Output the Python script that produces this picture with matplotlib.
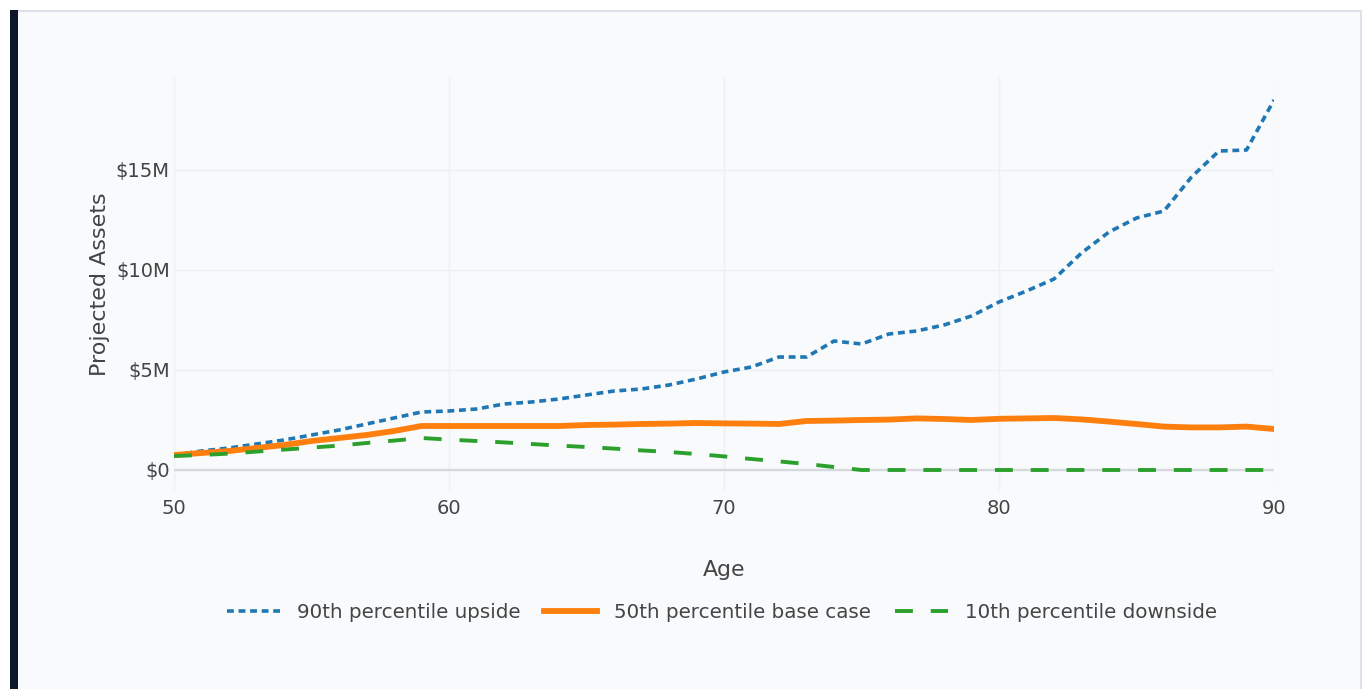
#!/usr/bin/env python3
import matplotlib

matplotlib.use("Agg")
import matplotlib.pyplot as plt  # noqa: E402
from matplotlib.patches import Rectangle  # noqa: E402

# values in $M
ages = list(range(50, 91))
p90_upside = [
    0.75, 0.95, 1.1, 1.3, 1.5, 1.75, 2.0, 2.3, 2.6, 2.9,
    2.95, 3.05, 3.3, 3.4, 3.55, 3.75, 3.95, 4.05, 4.25, 4.55,
    4.9, 5.15, 5.65, 5.65, 6.45, 6.3, 6.8, 6.95, 7.25, 7.7,
    8.4, 8.95, 9.55, 10.85, 11.9, 12.6, 12.95, 14.65, 15.95, 16.0,
    18.5,
]
p50_base = [
    0.75, 0.85, 0.95, 1.1, 1.25, 1.45, 1.6, 1.75, 1.95, 2.2,
    2.2, 2.2, 2.2, 2.2, 2.2, 2.25, 2.27, 2.3, 2.32, 2.35,
    2.33, 2.32, 2.3, 2.45, 2.47, 2.5, 2.52, 2.58, 2.55, 2.5,
    2.56, 2.58, 2.6, 2.53, 2.42, 2.3, 2.17, 2.13, 2.13, 2.17,
    2.05,
]
p10_downside = [
    0.7, 0.75, 0.82, 0.92, 1.02, 1.12, 1.22, 1.35, 1.47, 1.6,
    1.52, 1.45, 1.38, 1.3, 1.22, 1.15, 1.07, 0.98, 0.9, 0.8,
    0.68, 0.55, 0.43, 0.3, 0.15, 0.0, 0.0, 0.0, 0.0, 0.0,
    0.0, 0.0, 0.0, 0.0, 0.0, 0.0, 0.0, 0.0, 0.0, 0.0,
    0.0,
]
series_labels = ["90th percentile upside", "50th percentile base case", "10th percentile downside"]
y_ticks = [0, 5, 10, 15]
y_tick_labels = ["$0", "$5M", "$10M", "$15M"]
x_ticks = [50, 60, 70, 80, 90]

W, H = 1362, 689
BG = "#f8fafc"
TEXT = "#444444"

fig = plt.figure(figsize=(W / 100, H / 100), dpi=100, facecolor="white")


def px_rect(x0, y0, x1, y1, color):
    # rectangle given in pixel coords, y measured from the top
    fig.patches.append(Rectangle((x0 / W, 1 - y1 / H), (x1 - x0) / W, (y1 - y0) / H,
                                 transform=fig.transFigure, facecolor=color,
                                 edgecolor="none", zorder=-10))


# card behind the chart
px_rect(9.5, 10, 1362, 689, "#dbe2ea")
px_rect(17.5, 12, 1359.5, 689, BG)
px_rect(9.5, 10, 17.5, 689, "#0f172a")

ax = fig.add_axes([174 / W, 1 - 490 / H, 1100 / W, 412 / H])
ax.set_zorder(2)
ax.patch.set_alpha(0)

ax.plot(ages, p90_upside, color="#1f77b4", lw=2.6, dashes=(1.9, 1.3),
        dash_capstyle="butt", label=series_labels[0], zorder=3)
ax.plot(ages, p50_base, color="#ff7f0e", lw=4.2, solid_joinstyle="round",
        label=series_labels[1], zorder=4)
ax.plot(ages, p10_downside, color="#2ca02c", lw=2.8, dashes=(4.6, 4.6),
        dash_capstyle="butt", label=series_labels[2], zorder=5)

ax.set_xlim(50, 90)
ax.set_ylim(-1.0, 19.6)
ax.set_xticks(x_ticks)
ax.set_yticks(y_ticks)
ax.set_yticklabels(y_tick_labels)
ax.tick_params(length=0, labelsize=14, labelcolor=TEXT)
ax.tick_params(axis="x", pad=6.5)
ax.tick_params(axis="y", pad=3)
for spine in ax.spines.values():
    spine.set_visible(False)
ax.grid(True, color="#edf1f5", lw=1.0, zorder=0)
ax.axhline(0, color="#d5d8dd", lw=1.6, zorder=1)
ax.set_axisbelow(True)

fig.text(724 / W, 1 - 570 / H, "Age", ha="center", va="center", fontsize=15.8, color=TEXT)
fig.text(100 / W, 1 - 284 / H, "Projected Assets", ha="center", va="center",
         rotation=90, fontsize=16, color=TEXT)

ax.legend(loc="center", bbox_to_anchor=(722 / W, 1 - 612.5 / H),
          bbox_transform=fig.transFigure, ncol=3, frameon=False,
          fontsize=14.3, labelcolor=TEXT, handlelength=2.66, handletextpad=0.85,
          columnspacing=1.2)

fig.savefig("out.png", dpi=100, facecolor="white")
